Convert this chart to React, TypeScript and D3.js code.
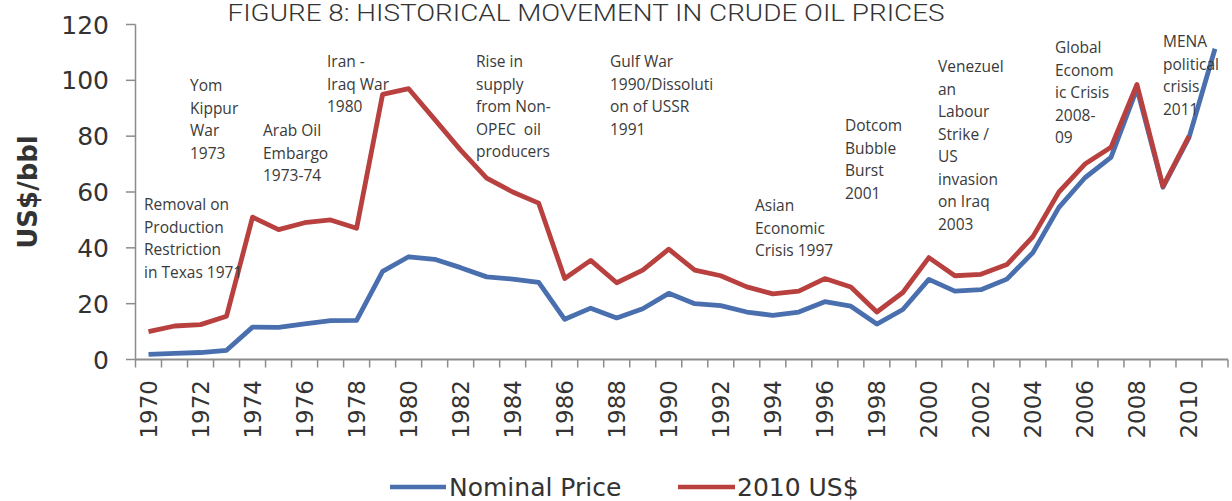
import React from 'react';
import * as d3 from 'd3';

const W = 1232;
const H = 501;

const years = d3.range(1970, 2012);

// US$/bbl, money of the day
const nominal = [
  1.8, 2.2, 2.5, 3.3, 11.6, 11.5, 12.8, 13.9, 14.0, 31.6,
  36.8, 35.9, 32.9, 29.6, 28.8, 27.6, 14.4, 18.4, 14.9, 18.2,
  23.7, 20.0, 19.3, 17.0, 15.8, 17.0, 20.7, 19.1, 12.7, 17.9,
  28.7, 24.5, 25.0, 28.8, 38.3, 54.5, 65.1, 72.4, 97.0, 61.7,
  79.5, 111.3,
];

// 2010 dollars (series stops at 2010)
const real2010 = [
  10.0, 12.0, 12.5, 15.5, 51.0, 46.5, 49.0, 50.0, 47.0, 95.0,
  97.0, 86.0, 75.0, 65.0, 60.0, 56.0, 29.0, 35.5, 27.5, 32.0,
  39.5, 32.0, 30.0, 26.0, 23.5, 24.5, 29.0, 26.0, 17.0, 24.0,
  36.5, 30.0, 30.5, 34.0, 44.0, 60.0, 70.0, 76.0, 98.5, 62.0,
  80.0,
];

const yTicks = [0, 20, 40, 60, 80, 100, 120];
const labelYears = years.filter(y => y % 2 === 0);

// event notes: anchor x, first line centre y
const notes = [
  { x: 144, y: 205, lines: ['Removal on', 'Production', 'Restriction', 'in Texas 1971'] },
  { x: 190, y: 86, lines: ['Yom', 'Kippur', 'War', '1973'] },
  { x: 263, y: 131, lines: ['Arab Oil', 'Embargo', '1973-74'] },
  { x: 327, y: 62, lines: ['Iran -', 'Iraq War', '1980'] },
  { x: 476, y: 62, lines: ['Rise in', 'supply', 'from Non-', 'OPEC  oil', 'producers'] },
  { x: 610, y: 62, lines: ['Gulf War', '1990/Dissoluti', 'on of USSR', '1991'] },
  { x: 755, y: 206, lines: ['Asian', 'Economic', 'Crisis 1997'] },
  { x: 845, y: 126, lines: ['Dotcom', 'Bubble', 'Burst', '2001'] },
  { x: 938, y: 67, lines: ['Venezuel', 'an', 'Labour', 'Strike /', 'US', 'invasion', 'on Iraq', '2003'] },
  { x: 1055, y: 48, lines: ['Global', 'Econom', 'ic Crisis', '2008-', '09'] },
  { x: 1163, y: 42, lines: ['MENA', 'political', 'crisis', '2011'] },
];

const BLUE = '#4a6fae';
const RED = '#b8413f';
const AXIS = '#8c8c8c';
const TEXT = '#333';

export default function App() {
  const x = d3.scaleBand<number>().domain(years).range([135.5, 1228]).padding(0);
  const y = d3.scaleLinear().domain([0, 120]).range([359.5, 24.5]);
  const cx = (yr: number) => (x(yr) ?? 0) + x.bandwidth() / 2;

  const line = d3.line<number>()
    .x((_, i) => cx(years[i]))
    .y(d => y(d));

  const bounds = years.map(yr => x(yr) ?? 0).concat([x.range()[1]]);

  return (
    <svg width={W} height={H} style={{ position: 'absolute', left: 0, top: 0, background: '#fff' }}>
      {/* title */}
      <text x={586} y={21} textAnchor="middle" fontFamily="Roboto, 'Open Sans', sans-serif" fontWeight={300}
        fontSize={23} fill={TEXT} textLength={717} lengthAdjust="spacingAndGlyphs">
        FIGURE 8: HISTORICAL MOVEMENT IN CRUDE OIL PRICES
      </text>

      {/* y axis */}
      <line x1={135.5} x2={135.5} y1={y(120)} y2={y(0)} stroke={AXIS} strokeWidth={1.5} />
      {yTicks.map(t => (
        <g key={t}>
          <line x1={126} x2={135.5} y1={y(t)} y2={y(t)} stroke={AXIS} strokeWidth={1.5} />
          <text x={109} y={y(t)} dy="0.36em" textAnchor="end" fontFamily="'DejaVu Sans', sans-serif"
            fontSize={25} fill={TEXT}>{t}</text>
        </g>
      ))}
      <text transform="translate(37,192) rotate(-90)" textAnchor="middle" fontFamily="'DejaVu Sans', sans-serif"
        fontWeight="bold" fontSize={26} fill={TEXT}>US$/bbl</text>

      {/* x axis */}
      <line x1={135.5} x2={1228} y1={y(0)} y2={y(0)} stroke={AXIS} strokeWidth={2} />
      {bounds.map((bx, i) => (
        <line key={i} x1={bx} x2={bx} y1={y(0)} y2={y(0) + 8} stroke={AXIS} strokeWidth={1.5} />
      ))}
      {labelYears.map(yr => (
        <text key={yr} transform={`translate(${cx(yr) + 8.5},${380}) rotate(-90)`} textAnchor="end"
          fontFamily="'DejaVu Sans', sans-serif" fontSize={23} fill={TEXT}>{yr}</text>
      ))}

      {/* series */}
      <path d={line(nominal) ?? ''} fill="none" stroke={BLUE} strokeWidth={4.8} strokeLinejoin="round" />
      <path d={line(real2010) ?? ''} fill="none" stroke={RED} strokeWidth={4.8} strokeLinejoin="round" />

      {/* notes */}
      {notes.map((n, i) => (
        <text key={i} fontFamily="'Open Sans', sans-serif" fontSize={15.5} fill="#3a3a3a" style={{ whiteSpace: 'pre' }}>
          {n.lines.map((l, j) => (
            <tspan key={j} x={n.x} y={n.y + j * 22.5} dy="0.35em">{l}</tspan>
          ))}
        </text>
      ))}

      {/* legend */}
      <line x1={390} x2={446} y1={487} y2={487} stroke={BLUE} strokeWidth={4.5} />
      <text x={449} y={487} dy="0.36em" fontFamily="'DejaVu Sans', sans-serif" fontSize={25} fill={TEXT}>Nominal Price</text>
      <line x1={678} x2={735} y1={487} y2={487} stroke={RED} strokeWidth={4.5} />
      <text x={737} y={487} dy="0.36em" fontFamily="'DejaVu Sans', sans-serif" fontSize={25} fill={TEXT}>2010 US$</text>
    </svg>
  );
}
